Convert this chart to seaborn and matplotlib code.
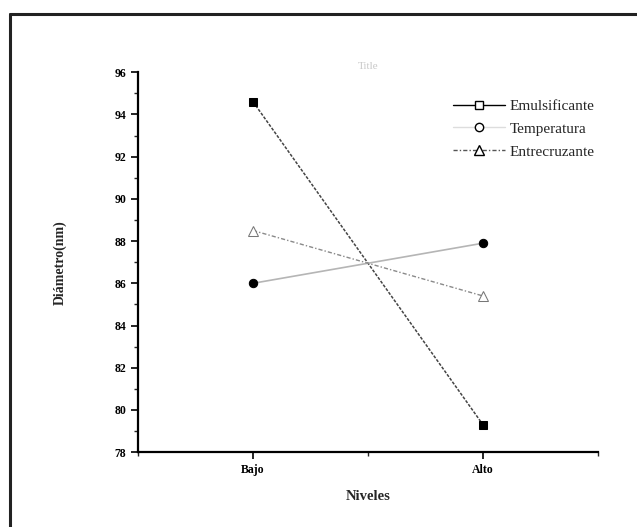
import seaborn as sns
import matplotlib.pyplot as plt
from matplotlib.lines import Line2D
from matplotlib.ticker import MultipleLocator

niveles = ['Bajo', 'Alto']
emulsificante = [94.6, 79.3]
temperatura = [86.0, 87.9]
entrecruzante = [88.5, 85.4]
y_ticks = [78, 80, 82, 84, 86, 88, 90, 92, 94, 96]

sns.set_theme(style='ticks')
plt.rcParams['font.family'] = ['Liberation Serif', 'DejaVu Serif']

fig = plt.figure(figsize=(6.37, 5.27), dpi=100)
ax = fig.add_axes([0.2167, 0.142, 0.722, 0.721])

# lineas de efectos principales
sns.lineplot(x=niveles, y=emulsificante, ax=ax, sort=False, color='#444444',
             linewidth=1.1, linestyle=(0, (2, 1)), marker='s', markersize=6,
             markerfacecolor='black', markeredgecolor='black')
sns.lineplot(x=niveles, y=temperatura, ax=ax, sort=False, color='#b5b5b5',
             linewidth=1.2, marker='o', markersize=6,
             markerfacecolor='black', markeredgecolor='black')
sns.lineplot(x=niveles, y=entrecruzante, ax=ax, sort=False, color='#8a8a8a',
             linewidth=1.0, linestyle=(0, (3, 1.5, 1, 1.5)), marker='^', markersize=7,
             markerfacecolor='white', markeredgecolor='#777777')

ax.set_xlim(-0.5, 1.5)
ax.set_ylim(78, 96)
ax.set_yticks(y_ticks)
ax.yaxis.set_minor_locator(MultipleLocator(1))
ax.xaxis.set_minor_locator(MultipleLocator(0.5))
ax.tick_params(axis='both', which='major', length=5, width=1.2, labelsize=8.5, colors='black')
ax.tick_params(axis='both', which='minor', length=3, width=1.0)
for lab in ax.get_xticklabels() + ax.get_yticklabels():
    lab.set_fontweight('bold')

sns.despine(ax=ax)
for s in ['left', 'bottom']:
    ax.spines[s].set_linewidth(1.6)
    ax.spines[s].set_color('black')

ax.set_xlabel('Niveles', fontsize=10.5, fontweight='bold', labelpad=10)
ax.set_ylabel('Diámetro(nm)', fontsize=10, fontweight='bold', labelpad=34)
ax.set_title('Title', fontsize=8, color='#c8c8c8', pad=2)

handles = [
    Line2D([], [], color='black', linewidth=1, marker='s', markersize=6,
           markerfacecolor='white', markeredgecolor='black'),
    Line2D([], [], color='#dddddd', linewidth=1, marker='o', markersize=6,
           markerfacecolor='white', markeredgecolor='black'),
    Line2D([], [], color='#555555', linewidth=1, linestyle=(0, (3, 1.5, 1, 1.5)),
           marker='^', markersize=7, markerfacecolor='white', markeredgecolor='black'),
]
ax.legend(handles, ['Emulsificante', 'Temperatura', 'Entrecruzante'],
          loc='upper left', bbox_to_anchor=(0.655, 0.965), frameon=False,
          fontsize=11, handlelength=3.4, labelspacing=0.6, handletextpad=0.3)

# marco exterior del escaneo
fig.add_artist(Line2D([0.0157, 0.0157], [0.0, 0.974], color='#222222', linewidth=2.2,
                      transform=fig.transFigure))
fig.add_artist(Line2D([0.0157, 1.0], [0.974, 0.974], color='#222222', linewidth=2.2,
                      transform=fig.transFigure))

fig.savefig('out.png', dpi=100, facecolor='white')
